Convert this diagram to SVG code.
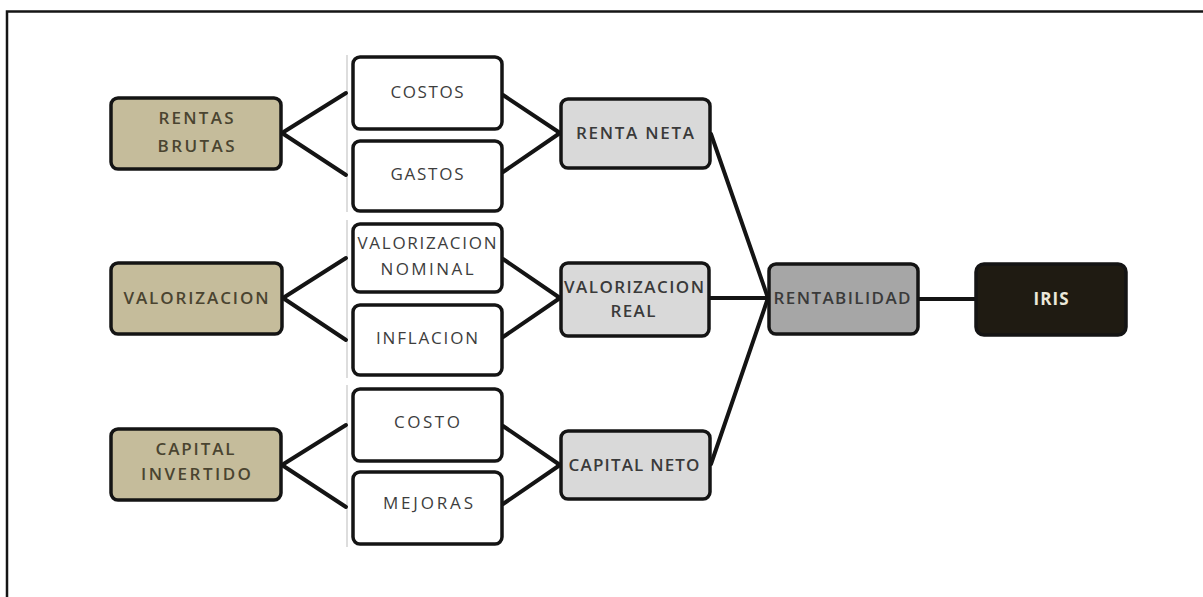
<svg xmlns="http://www.w3.org/2000/svg" width="1203" height="597" viewBox="0 0 1203 597">
  <style>
    .box { stroke: #141414; stroke-width: 3.5; }
    .src { fill: #c5bc9b; }
    .mid { fill: #ffffff; }
    .sub { fill: #d9d9d9; }
    .tot { fill: #a6a6a6; }
    .end { fill: #1f1b12; }
    .t { font-family: "Open Sans", "DejaVu Sans", sans-serif; font-size: 17px; text-anchor: middle; }
    .ts { fill: #4a4430; font-weight: 600; }
    .tm { fill: #3d3d3d; font-weight: 400; }
    .tg { fill: #3a3a3a; font-weight: 600; }
    .te { fill: #ece8da; font-weight: 700; }
    .link { stroke: #141414; stroke-width: 4; fill: none; stroke-linecap: round; }
    .guide { stroke: #d2d2d2; stroke-width: 1.5; fill: none; }
    .frame { stroke: #151515; stroke-width: 2.5; fill: none; }
  </style>

  <rect width="1203" height="597" fill="#ffffff"/>
  <path class="frame" d="M7,597 V11.5 H1203"/>

  <!-- thin guides to the left of each pair of white boxes -->
  <g id="guides">
    <line class="guide" x1="347" y1="55" x2="347" y2="212"/>
    <line class="guide" x1="347" y1="220" x2="347" y2="378"/>
    <line class="guide" x1="347" y1="385" x2="347" y2="547"/>
  </g>

  <g id="connectors">
    <!-- rentas brutas -->
    <line class="link" x1="282" y1="133" x2="346" y2="93"/>
    <line class="link" x1="282" y1="133" x2="346" y2="175"/>
    <line class="link" x1="503" y1="95" x2="560" y2="133"/>
    <line class="link" x1="503" y1="172" x2="560" y2="133"/>
    <!-- valorizacion -->
    <line class="link" x1="283" y1="298" x2="346" y2="258"/>
    <line class="link" x1="283" y1="298" x2="346" y2="340"/>
    <line class="link" x1="503" y1="259" x2="560" y2="298"/>
    <line class="link" x1="503" y1="337" x2="560" y2="298"/>
    <!-- capital -->
    <line class="link" x1="282" y1="465" x2="346" y2="425"/>
    <line class="link" x1="282" y1="465" x2="346" y2="507"/>
    <line class="link" x1="503" y1="426" x2="560" y2="465"/>
    <line class="link" x1="503" y1="504" x2="560" y2="465"/>
    <!-- into rentabilidad and iris -->
    <line class="link" x1="711" y1="134" x2="768" y2="298"/>
    <line class="link" x1="710" y1="298" x2="768" y2="298"/>
    <line class="link" x1="711" y1="464" x2="768" y2="298"/>
    <line class="link" x1="919" y1="299" x2="975" y2="299"/>
  </g>

  <g id="rentas-brutas">
    <rect class="box src" x="111" y="98" width="170" height="71" rx="7"/>
    <text class="t ts" x="196" y="124" textLength="75" lengthAdjust="spacing">RENTAS</text>
    <text class="t ts" x="196" y="152" textLength="77" lengthAdjust="spacing">BRUTAS</text>
  </g>
  <g id="costos">
    <rect class="box mid" x="353" y="57" width="149" height="72" rx="7"/>
    <text class="t tm" x="427" y="98" textLength="73" lengthAdjust="spacing">COSTOS</text>
  </g>
  <g id="gastos">
    <rect class="box mid" x="353" y="141" width="149" height="70" rx="7"/>
    <text class="t tm" x="427" y="180" textLength="73" lengthAdjust="spacing">GASTOS</text>
  </g>
  <g id="renta-neta">
    <rect class="box sub" x="561" y="99" width="149" height="69" rx="7"/>
    <text class="t tg" x="635" y="139" textLength="118" lengthAdjust="spacing">RENTA NETA</text>
  </g>

  <g id="valorizacion">
    <rect class="box src" x="111" y="263" width="171" height="71" rx="7"/>
    <text class="t ts" x="196" y="304" textLength="145" lengthAdjust="spacing">VALORIZACION</text>
  </g>
  <g id="valorizacion-nominal">
    <rect class="box mid" x="353" y="224" width="149" height="68" rx="7"/>
    <text class="t tm" x="427" y="249" textLength="139" lengthAdjust="spacing">VALORIZACION</text>
    <text class="t tm" x="427" y="275" textLength="93" lengthAdjust="spacing">NOMINAL</text>
  </g>
  <g id="inflacion">
    <rect class="box mid" x="353" y="305" width="149" height="70" rx="7"/>
    <text class="t tm" x="427" y="344" textLength="102" lengthAdjust="spacing">INFLACION</text>
  </g>
  <g id="valorizacion-real">
    <rect class="box sub" x="561" y="263" width="148" height="73" rx="7"/>
    <text class="t tg" x="634" y="293" textLength="140" lengthAdjust="spacing">VALORIZACION</text>
    <text class="t tg" x="633" y="317" textLength="45" lengthAdjust="spacing">REAL</text>
  </g>

  <g id="capital-invertido">
    <rect class="box src" x="111" y="429" width="170" height="71" rx="7"/>
    <text class="t ts" x="195" y="455" textLength="79" lengthAdjust="spacing">CAPITAL</text>
    <text class="t ts" x="196" y="480" textLength="110" lengthAdjust="spacing">INVERTIDO</text>
  </g>
  <g id="costo">
    <rect class="box mid" x="353" y="389" width="149" height="72" rx="7"/>
    <text class="t tm" x="427" y="428" textLength="66" lengthAdjust="spacing">COSTO</text>
  </g>
  <g id="mejoras">
    <rect class="box mid" x="353" y="472" width="149" height="72" rx="7"/>
    <text class="t tm" x="428" y="509" textLength="90" lengthAdjust="spacing">MEJORAS</text>
  </g>
  <g id="capital-neto">
    <rect class="box sub" x="561" y="431" width="149" height="68" rx="7"/>
    <text class="t tg" x="634" y="471" textLength="131" lengthAdjust="spacing">CAPITAL NETO</text>
  </g>

  <g id="rentabilidad">
    <rect class="box tot" x="769" y="264" width="149" height="70" rx="7"/>
    <text class="t tg" x="842" y="304" textLength="137" lengthAdjust="spacing">RENTABILIDAD</text>
  </g>
  <g id="iris">
    <rect class="box end" x="976" y="264" width="150" height="71" rx="8"/>
    <text class="t te" x="1051" y="305" textLength="35" lengthAdjust="spacing">IRIS</text>
  </g>
</svg>
